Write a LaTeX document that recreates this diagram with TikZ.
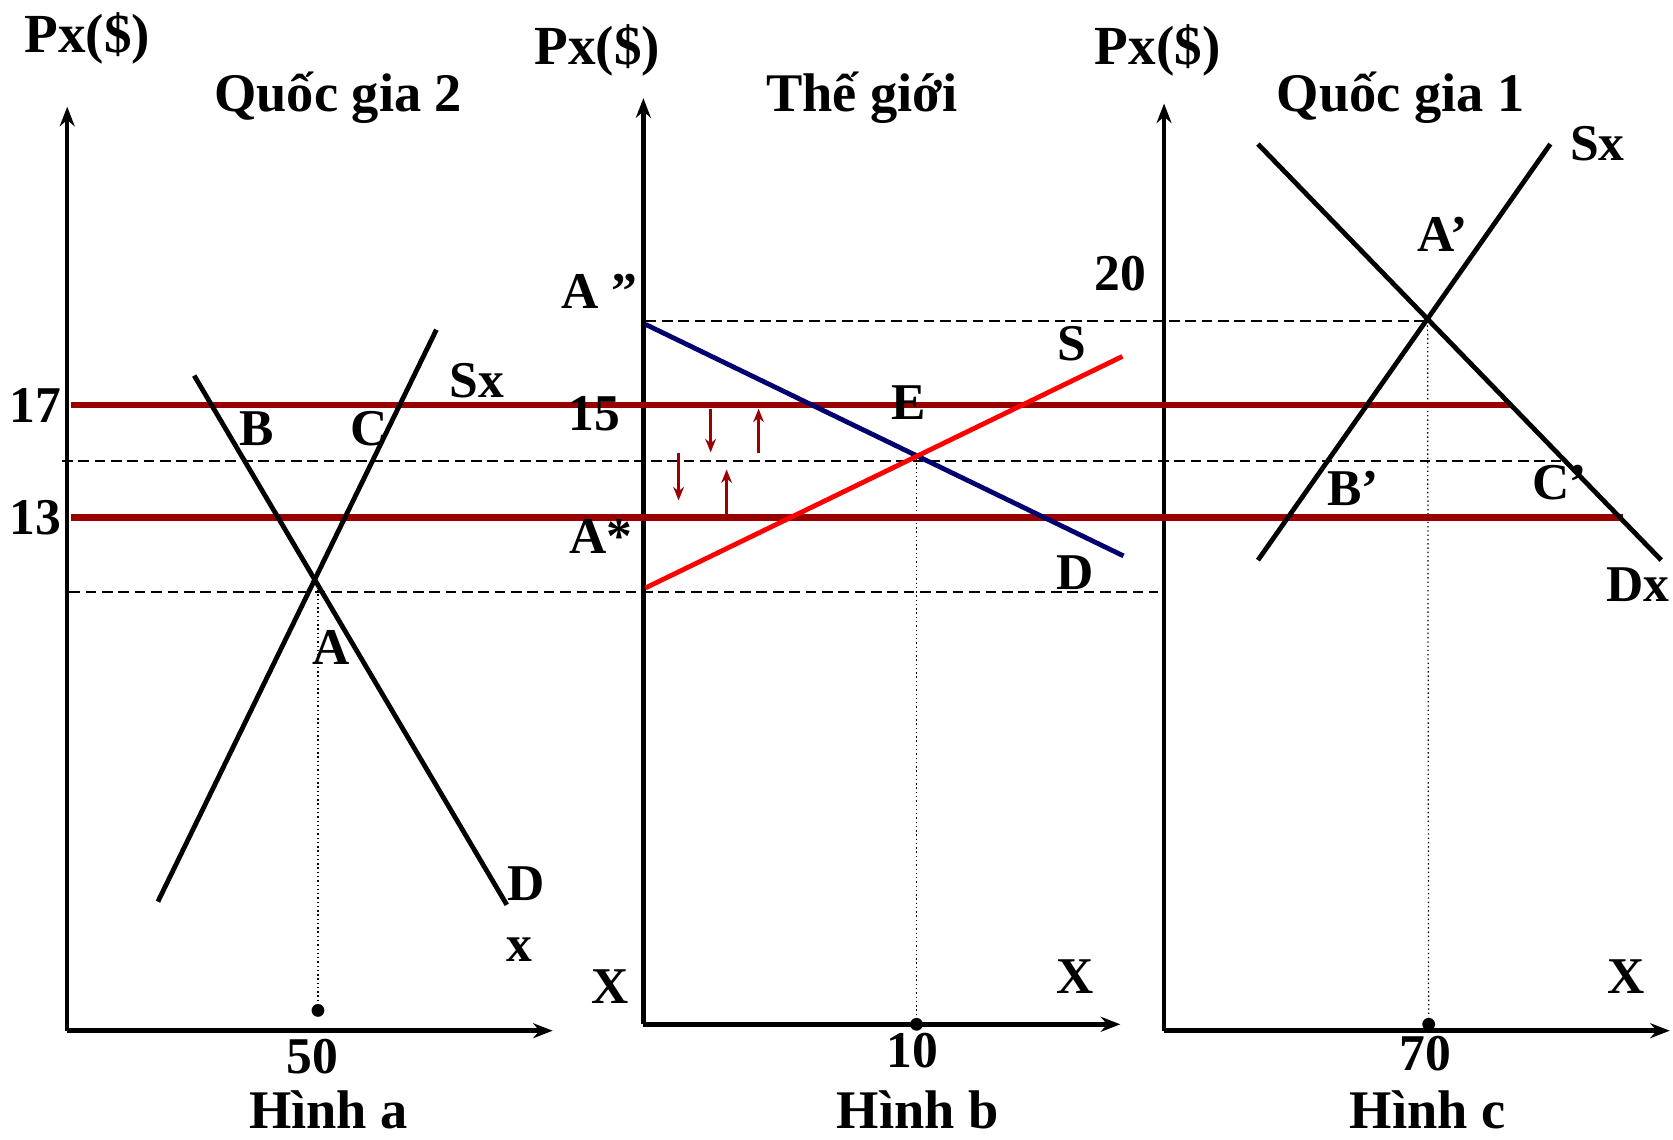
\documentclass[tikz,border=0pt]{standalone}
\usepackage{fontspec}
\setmainfont{Liberation Serif}
\usetikzlibrary{arrows.meta}

\definecolor{darkred}{RGB}{153,0,0}
\definecolor{navyline}{RGB}{0,0,110}

\begin{document}
\begin{tikzpicture}[x=0.3pt, y=-0.3pt,
  lbl/.style={font=\fontsize{14.5}{17}\selectfont\bfseries, inner sep=0pt},
  ttl/.style={font=\fontsize{15.3}{18}\selectfont\bfseries, inner sep=0pt},
  pxlbl/.style={font=\fontsize{15.5}{18}\selectfont\bfseries, inner sep=0pt},
  axis/.style={line width=1.25pt, -{Stealth[length=5.5pt,width=4.2pt]}},
  curve/.style={line width=1.35pt},
  price/.style={line width=1.7pt, darkred},
  guide/.style={line width=0.5pt, dash pattern=on 3pt off 1.6pt},
  drop/.style={line width=0.35pt, dash pattern=on 0.4pt off 0.8pt},
  move/.style={line width=0.7pt, darkred, -{Stealth[length=3.8pt,width=3pt]}},
  qdot/.style={circle, fill, inner sep=0pt, minimum size=3.6pt}
]
\useasboundingbox (0,0) rectangle (1568,1068);

% axes of the three panels
\coordinate (Oa) at (63,966);  \coordinate (Ya) at (63,100);  \coordinate (Xa) at (518,966);
\coordinate (Ob) at (603,960); \coordinate (Yb) at (603,92);  \coordinate (Xb) at (1050,960);
\coordinate (Oc) at (1091,966); \coordinate (Yc) at (1091,97); \coordinate (Xc) at (1565,966);
\draw[axis] (Oa) -- (Ya);
\draw[axis] (Oa) -- (Xa);
\draw[axis] (Ob) -- (Yb);
\draw[axis] (Ob) -- (Xb);
\draw[axis] (Oc) -- (Yc);
\draw[axis] (Oc) -- (Xc);

% axis and panel titles
\node[pxlbl] (pxa) at (82,36)   {Px(\$)};
\node[pxlbl] (pxb) at (560,47)  {Px(\$)};
\node[pxlbl] (pxc) at (1085,47) {Px(\$)};
\node[ttl] (tta) at (317,92)  {Quốc gia 2};
\node[ttl] (ttb) at (808,92)  {Thế giới};
\node[ttl] (ttc) at (1313,92) {Quốc gia 1};

% equilibrium points
\coordinate (ptA)  at (298,545);
\coordinate (ptE)  at (859,430);
\coordinate (ptAp) at (1338,301);
\node[qdot] (qa) at (298,947) {};
\node[qdot] (qb) at (859,960) {};
\node[qdot] (qc) at (1339,960) {};

% guide lines
\coordinate (uL) at (605,301);
\coordinate (mL) at (58,432);  \coordinate (mR) at (1465,432);
\coordinate (lL) at (65,555);  \coordinate (lR) at (1085,555);
\draw[guide] (uL) -- (ptAp);
\draw[guide] (mL) -- (mR);
\draw[guide] (lL) -- (lR);
\draw[drop] (ptA) -- (qa);
\draw[drop] (ptE) -- (qb);
\draw[drop] (ptAp) -- (qc);

% price levels 17 and 13
\coordinate (h17L) at (67,380); \coordinate (h17R) at (1415,380);
\coordinate (h13L) at (67,485); \coordinate (h13R) at (1521,485);
\draw[price] (h17L) -- (h17R);
\draw[price] (h13L) -- (h13R);

% panel a curves
\coordinate (saL) at (148,845); \coordinate (saH) at (409,309);
\coordinate (daH) at (182,352); \coordinate (daL) at (475,848);
\draw[curve] (saL) -- (saH);
\draw[curve] (daH) -- (daL);

% panel b curves
\coordinate (dbH) at (605,304); \coordinate (dbL) at (1053,521);
\coordinate (sbL) at (605,551); \coordinate (sbH) at (1052,334);
\draw[curve, navyline] (dbH) -- (dbL);
\draw[curve, red] (sbL) -- (sbH);

% panel c curves
\coordinate (dcH) at (1179,135); \coordinate (dcL) at (1557,525);
\coordinate (scL) at (1179,525); \coordinate (scH) at (1453,135);
\draw[curve] (dcH) -- (dcL);
\draw[curve] (scL) -- (scH);

% adjustment arrows
\foreach \n/\x/\ya/\yb in {1/666/383/424, 2/711/425/383, 3/636/425/469, 4/681/483/440}{
  \coordinate (m\n s) at (\x,\ya);
  \coordinate (m\n e) at (\x,\yb);
  \draw[move] (m\n s) -- (m\n e);
}

% labels panel a
\node[lbl] (l17) at (33,380) {17};
\node[lbl] (l13) at (33,485) {13};
\node[lbl] (lB)  at (241,402) {B};
\node[lbl] (lC)  at (346,402) {C};
\node[lbl] (lSa) at (447,357) {Sx};
\node[lbl] (lA)  at (310,607) {A};
\node[lbl] (lDa) at (493,828) {D};
\node[lbl] (lxa) at (487,890) {x};
\node[lbl] (l50) at (293,990) {50};
\node[ttl] (fa)  at (308,1040) {Hình a};

% labels panel b
\node[lbl] (lApp) at (562,273) {A ”};
\node[lbl] (l15)  at (557,388) {15};
\node[lbl] (lAs)  at (563,503) {A*};
\node[lbl] (lXb1) at (572,925) {X};
\node[lbl] (lE)   at (852,377) {E};
\node[lbl] (lS)   at (1005,322) {S};
\node[lbl] (lDb)  at (1008,537) {D};
\node[lbl] (l20)  at (1050,256) {20};
\node[lbl] (lXb2) at (1008,915) {X};
\node[lbl] (l10)  at (855,985) {10};
\node[ttl] (fb)   at (860,1040) {Hình b};

% labels panel c
\node[lbl] (lAp) at (1352,220) {A’};
\node[lbl] (lSc) at (1497,135) {Sx};
\node[lbl] (lBp) at (1268,458) {B’};
\node[lbl] (lCp) at (1462,452) {C’};
\node[lbl] (lDc) at (1535,548) {Dx};
\node[lbl] (lXc) at (1524,915) {X};
\node[lbl] (l70) at (1336,987) {70};
\node[ttl] (fc)  at (1338,1040) {Hình c};
\end{tikzpicture}
\end{document}
